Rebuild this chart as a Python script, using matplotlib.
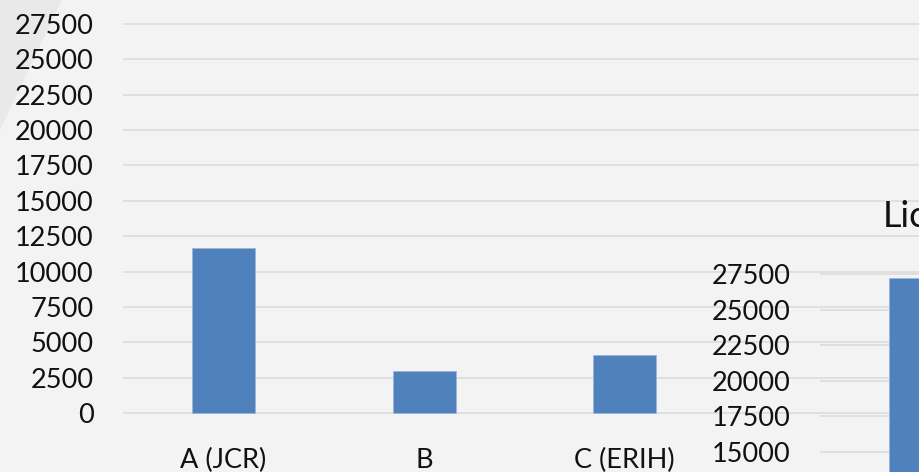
import matplotlib
matplotlib.use("Agg")
import matplotlib.pyplot as plt
from matplotlib.patches import Polygon

# ---- data ----
categories = ["A (JCR)", "B", "C (ERIH)"]
values = [11700, 3000, 4150]
ytick_values = list(range(0, 27501, 2500))

second_title = "Lic"
second_ytick_values = list(range(15000, 27501, 2500))
second_values = [27250]

# ---- style ----
plt.rcParams['font.family'] = ['Lato', 'DejaVu Sans']
BG = "#f3f3f3"
GRID = "#d9d9d9"
BAR = "#4f81bd"

W, H = 919, 472
fig = plt.figure(figsize=(W / 100, H / 100), dpi=100)
fig.patch.set_facecolor(BG)
fig.patches.append(Polygon([(0, 1), (61.7 / W, 1), (0, 1 - 130 / H)], closed=True,
                           transform=fig.transFigure, facecolor="#eae9ea",
                           edgecolor="none", zorder=-10))


def make_axes(x_left_px, cat_w_px, ncat_slots, zero_px, px_per_unit, ymin, ymax, yticks):
    bottom_px = zero_px - ymin * px_per_unit
    top_px = zero_px - ymax * px_per_unit
    width_px = cat_w_px * ncat_slots
    ax = fig.add_axes([x_left_px / W, (H - bottom_px) / H, width_px / W,
                       (bottom_px - top_px) / H])
    ax.set_zorder(5)
    ax.set_ylim(ymin, ymax)
    ax.set_xlim(-0.5, ncat_slots - 0.5)
    ax.patch.set_alpha(0)
    for s in ax.spines.values():
        s.set_visible(False)
    ax.set_yticks(yticks)
    ax.yaxis.grid(True, color=GRID, linewidth=1.1)
    ax.set_axisbelow(True)
    ax.tick_params(axis='both', length=0, labelsize=19.5, colors="#111111")
    ax.tick_params(axis='y', pad=21)
    ax.tick_params(axis='x', pad=22)
    return ax


# main chart
k1 = (413.3 - 23.7) / 27500
ax = make_axes(123, 200.7, 4, 413.3, k1, -300, 413.3 / k1, ytick_values)
ax.bar(range(len(categories)), values, width=0.314, color=BAR,
       edgecolor="#9db5d8", linewidth=0.6, zorder=3)
ax.set_xticks(range(len(categories)))
ax.set_xticklabels(categories)

# second (overlapping) chart
k2 = (451.7 - 274.0) / 12500
zero2 = 274.0 + 27500 * k2
ax2 = make_axes(820, 200.7, 1, zero2, k2, -300, 28600, second_ytick_values)
ax2.bar([0], second_values, width=0.314, color=BAR,
        edgecolor="#9db5d8", linewidth=0.6, zorder=3)
ax2.set_xticks([])

fig.text(882.7 / W, 1 - 226.7 / H, second_title, fontsize=26, ha='left',
         va='baseline', color="#111111", zorder=6)

fig.savefig("out.png", dpi=100, facecolor=fig.get_facecolor())
